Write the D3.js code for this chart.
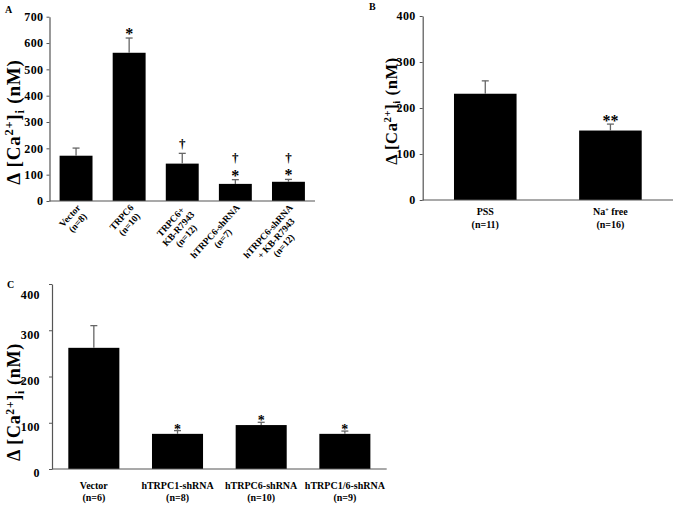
<!DOCTYPE html>
<html>
<head>
<meta charset="utf-8">
<script src="https://cdn.jsdelivr.net/npm/d3@7"></script>
<style>
  html, body { margin: 0; padding: 0; background: #fff; }
  svg { display: block; }
  text { font-family: "Liberation Serif", "Times New Roman", serif; font-weight: bold; fill: #000; }
</style>
</head>
<body>
<svg id="chart" width="675" height="509"></svg>
<script>
// ---------------- DATA ----------------
const categoriesA = [["Vector", "(n=8)"], ["TRPC6", "(n=10)"], ["TRPC6+", "KB-R7943", "(n=12)"], ["hTRPC6-shRNA", "(n=7)"], ["hTRPC6-shRNA", "+ KB-R7943", "(n=12)"]];
const valuesA = [172, 563, 142, 65, 73];
const errorsA = [29, 56, 39, 16, 9];
const marksA = [[], ["*"], ["†"], ["*", "†"], ["*", "†"]];
const ticksA = [0, 100, 200, 300, 400, 500, 600, 700];

const categoriesB = [["PSS", "(n=11)"], ["Na+ free", "(n=16)"]];
const valuesB = [231, 151];
const errorsB = [28, 14];
const marksB = [[], ["**"]];
const ticksB = [0, 100, 200, 300, 400];

const categoriesC = [["Vector", "(n=6)"], ["hTRPC1-shRNA", "(n=8)"], ["hTRPC6-shRNA", "(n=10)"], ["hTRPC1/6-shRNA", "(n=9)"]];
const valuesC = [262, 76, 95, 76];
const errorsC = [48, 7, 6, 6];
const marksC = [[], ["*"], ["*"], ["*"]];
const ticksC = [0, 100, 200, 300, 400];

// ---------------- DRAW ----------------
const svg = d3.select("#chart");
const AXIS = "#555";

function drawPanel(cfg) {
  const g = svg.append("g");
  const x = d3.scaleBand().domain(cfg.cats.map((c, i) => i))
    .range([cfg.x0, cfg.x1]).paddingInner(cfg.pin).paddingOuter(cfg.pout);
  const y = d3.scaleLinear().domain([0, cfg.max]).range([cfg.y0, cfg.y1]);

  // bars
  g.selectAll("rect.bar").data(cfg.vals).join("rect")
    .attr("x", (d, i) => x(i)).attr("width", x.bandwidth())
    .attr("y", d => y(d)).attr("height", d => y(0) - y(d))
    .attr("fill", "#000");

  // error bars (upper only)
  cfg.vals.forEach((v, i) => {
    const cx = x(i) + x.bandwidth() / 2;
    const top = y(v + cfg.errs[i]);
    g.append("line").attr("x1", cx).attr("x2", cx).attr("y1", y(v)).attr("y2", top)
      .attr("stroke", "#666").attr("stroke-width", 1.3);
    g.append("line").attr("x1", cx - 3.5).attr("x2", cx + 3.5).attr("y1", top).attr("y2", top)
      .attr("stroke", "#666").attr("stroke-width", 1.3);
    // annotations
    let cy = top - cfg.markGap;
    cfg.marks[i].forEach((m, k) => {
      const isDag = m === "†";
      const fs = isDag ? cfg.dagSize : cfg.starSize;
      if (isDag && k === 0) cy = top - 10;
      g.append("text").attr("x", cx).attr("y", cy + (isDag ? 0.32 : 0.5) * fs)
        .attr("text-anchor", "middle").attr("font-size", fs).attr("fill", "#111").text(m);
      cy -= 15;
    });
  });

  // y axis
  const yAxis = d3.axisLeft(y).tickValues(cfg.ticks).tickSize(3).tickPadding(cfg.tickPad).tickSizeOuter(0);
  const ya = g.append("g").attr("transform", `translate(${cfg.x0},0)`).call(yAxis);
  ya.select(".domain").attr("stroke", AXIS).attr("stroke-width", 1.2);
  ya.selectAll(".tick line").attr("stroke", AXIS);
  ya.selectAll(".tick text").attr("font-size", cfg.tickFont).attr("fill", "#000")
    .attr("font-family", "Liberation Serif, Times New Roman, serif").attr("font-weight", "bold")
    .attr("dy", (d) => (cfg.tickDy ? cfg.tickDy(d) : "0.32em"))
    .style("letter-spacing", "0.4px");

  // x axis line
  g.append("line").attr("x1", cfg.x0).attr("x2", cfg.x1).attr("y1", y(0)).attr("y2", y(0))
    .attr("stroke", AXIS).attr("stroke-width", 1.2);

  // x labels
  cfg.cats.forEach((lines, i) => {
    const cx = x(i) + x.bandwidth() / 2;
    if (cfg.rotate) {
      const lg = g.append("g").attr("transform", `translate(${cx + 5},${y(0) + 7}) rotate(${cfg.rotate})`);
      const texts = lines.map((t, k) => lg.append("text").attr("font-size", cfg.labFont)
        .attr("y", k * cfg.lineH).attr("text-anchor", "middle").text(t));
      const w = d3.max(texts, t => t.node().getComputedTextLength());
      texts.forEach(t => t.attr("x", -w / 2));
    } else {
      lines.forEach((t, k) => {
        const tx = g.append("text").attr("x", cx).attr("y", y(0) + cfg.labY + k * cfg.lineH)
          .attr("text-anchor", "middle").attr("font-size", cfg.labFont);
        if (t.startsWith("Na+")) {
          const sh = cfg.labFont * 0.35;
          tx.append("tspan").text("Na");
          tx.append("tspan").attr("dy", -sh).attr("font-size", cfg.labFont * 0.6).text("+");
          tx.append("tspan").attr("dy", sh).text(t.slice(3));
        } else tx.text(t);
      });
    }
  });

  // y title
  const F = cfg.titleFont;
  const tt = g.append("text").attr("transform", `translate(${cfg.titleX},${cfg.titleY}) rotate(-90)`)
    .attr("text-anchor", "middle").attr("font-size", F).style("letter-spacing", cfg.titleLS + "px");
  tt.append("tspan").text("Δ [Ca");
  tt.append("tspan").attr("dy", -0.36 * F).attr("font-size", F * 0.65).text("2+");
  tt.append("tspan").attr("dy", 0.36 * F).text("]");
  tt.append("tspan").attr("dy", 0.2 * F).attr("font-size", F * 0.65).text("i");
  tt.append("tspan").attr("dy", -0.2 * F).text(" (nM)");

  // panel letter
  g.append("text").attr("x", cfg.letterX).attr("y", cfg.letterY).attr("font-size", 10).text(cfg.letter);
}

drawPanel({
  cats: categoriesA, vals: valuesA, errs: errorsA, marks: marksA, ticks: ticksA, max: 700,
  x0: 49.5, x1: 315, y0: 201, y1: 16.7, pin: 0.38, pout: 0.19,
  markGap: 7, starSize: 16, dagSize: 13, tickFont: 12, tickPad: 3,
  rotate: -48, labFont: 9.5, lineH: 10.5,
  titleX: 20, titleY: 122, titleFont: 19, titleLS: 0.8, letter: "A", letterX: 5, letterY: 13
});

drawPanel({
  cats: categoriesB, vals: valuesB, errs: errorsB, marks: marksB, ticks: ticksB, max: 400,
  x0: 422.7, x1: 673, y0: 200, y1: 16, pin: 0.5, pout: 0.25,
  markGap: 6, starSize: 16, dagSize: 13, tickFont: 12, tickPad: 4,
  labFont: 10, labY: 15, lineH: 12.5,
  titleX: 397, titleY: 111, titleFont: 16.5, titleLS: 0.6, letter: "B", letterX: 369, letterY: 10
});

drawPanel({
  cats: categoriesC, vals: valuesC, errs: errorsC, marks: marksC, ticks: ticksC, max: 400,
  x0: 52, x1: 386.7, y0: 469, y1: 284, pin: 0.39, pout: 0.195,
  markGap: 4, starSize: 14, dagSize: 13, tickFont: 12, tickPad: 9,
  tickDy: d => (d === 400 ? "1.2em" : "0.65em"),
  labFont: 10, labY: 20, lineH: 12,
  titleX: 20, titleY: 402, titleFont: 18, titleLS: 0.7, letter: "C", letterX: 7, letterY: 288
});
</script>
</body>
</html>
